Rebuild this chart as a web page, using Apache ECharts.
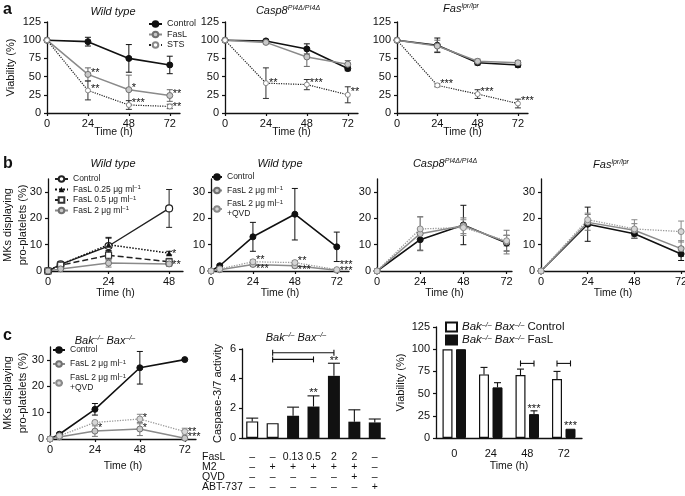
<!DOCTYPE html>
<html><head><meta charset="utf-8">
<script src="https://cdn.jsdelivr.net/npm/echarts@6/dist/echarts.min.js"></script>
<style>html,body{margin:0;padding:0;background:#fff}#c{width:685px;height:496px}</style>
</head><body><div id="c"></div>
<script>
const FONT = "'Liberation Sans', Arial, Helvetica, sans-serif";

// ---------------- DATA ----------------
// tick labels
const timeTicks = [0, 24, 48, 72];
const timeTicksB1 = [0, 24, 48];
const viabTicks = [0, 25, 50, 75, 100, 125];
const mkTicks = [0, 10, 20, 30];
const caspTicks = [0, 2, 4, 6];

// Panel a: viability (%)
const timeA = [0, 24, 48, 72];
const aWT_control = [100, 98, 75, 66];
const aWT_control_sd = [0, 6, 19, 12];
const aWT_fasl = [100, 53, 32, 24];
const aWT_fasl_sd = [0, 9, 20, 8];
const aWT_sts = [100, 31, 11, 9];
const aWT_sts_sd = [0, 13, 6, 3];
const aWT_stars = [[24, 59, '**'], [24, 36, '**'], [48, 38, '*'], [48, 17, '***'], [72, 29, '**'], [72, 12, '**']];

const aCasp_control = [100, 99, 88, 61];
const aCasp_control_sd = [0, 2, 7, 3];
const aCasp_fasl = [100, 97, 77, 67];
const aCasp_fasl_sd = [0, 2, 13, 5];
const aCasp_sts = [100, 41, 39, 25];
const aCasp_sts_sd = [0, 21, 7, 11];
const aCasp_stars = [[24, 44, '**'], [48, 44, '***'], [72, 32, '**']];

const aFas_control = [100, 93, 69, 66];
const aFas_control_sd = [0, 10, 3, 3];
const aFas_fasl = [100, 92, 71, 69];
const aFas_fasl_sd = [0, 8, 3, 3];
const aFas_sts = [100, 38, 26, 13];
const aFas_sts_sd = [0, 2, 6, 6];
const aFas_stars = [[24, 43, '***'], [48, 32, '***'], [72, 20, '***']];

// Panel b: MKs displaying pro-platelets (%)
const timeB1 = [0, 5, 24, 48];
const bWT1_control = [0, 2.5, 9.5, 23.8];
const bWT1_control_sd = [0, 0.4, 3.3, 7.2];
const bWT1_f025 = [0, 2.5, 10, 6.8];
const bWT1_f025_sd = [0, 0.3, 2.5, 0.7];
const bWT1_f05 = [0, 2.2, 6, 3.5];
const bWT1_f05_sd = [0, 0.3, 1.8, 1.3];
const bWT1_f2 = [0, 0.8, 3, 2.7];
const bWT1_f2_sd = [0, 0.3, 1.5, 1];
const bWT1_stars = [[48, 7.4, '*'], [48, 3.2, '**']];

const timeB2 = [0, 5, 24, 48, 72];
const bWT2_control = [0, 2, 13, 21.6, 9.2];
const bWT2_control_sd = [0, 0.5, 5.5, 9.8, 5.6];
const bWT2_fasl = [0, 0.5, 2.5, 2, 0.3];
const bWT2_fasl_sd = [0, 0.2, 0.8, 0.8, 0.3];
const bWT2_qvd = [0, 0.8, 3.5, 3.2, 0.5];
const bWT2_qvd_sd = [0, 0.2, 0.8, 0.8, 0.4];
const bWT2_stars = [[24, 5.0, '**'], [24, 1.6, '***'], [48, 4.6, '**'], [48, 1.4, '***'], [72, 3.1, '***'], [72, 0.9, '***']];

const timeB34 = [0, 24, 48, 72];
const bCasp_control = [0, 11.9, 17.5, 10.6];
const bCasp_control_sd = [0, 4, 7.5, 3];
const bCasp_fasl = [0, 14.2, 17.2, 11];
const bCasp_fasl_sd = [0, 6.5, 3, 4.5];
const bCasp_qvd = [0, 16, 16.5, 11.5];
const bCasp_qvd_sd = [0, 4.5, 3, 2];

const bFas_control = [0, 17.8, 14.2, 6.5];
const bFas_control_sd = [0, 6.5, 1.8, 2.5];
const bFas_fasl = [0, 18.5, 15.5, 8.5];
const bFas_fasl_sd = [0, 3, 2.5, 3];
const bFas_qvd = [0, 19.5, 16, 15];
const bFas_qvd_sd = [0, 2.5, 3.5, 4];

// Panel c1: Bak-/- Bax-/- MKs
const timeC1 = [0, 5, 24, 48, 72];
const cBB_control = [0, 1.8, 11.3, 27.1, 30.2];
const cBB_control_sd = [0, 0.4, 2.2, 6.2, 0];
const cBB_fasl = [0, 0.8, 3, 3.8, 0.3];
const cBB_fasl_sd = [0, 0.3, 2, 2.5, 0.3];
const cBB_qvd = [0, 1.2, 6.3, 7.6, 2.8];
const cBB_qvd_sd = [0, 0.3, 0.5, 1.8, 1.3];
const cBB_stars = [[24, 5.3, '*'], [48, 9.1, '*'], [48, 5.3, '*'], [72, 3.7, '**'], [72, 1.6, '***']];

// Panel c2: caspase-3/7 activity
const casp_values = [1.12, 1.0, 1.5, 2.12, 4.19, 1.1, 1.05];
const casp_sd = [0.22, 0, 0.58, 0.72, 0.85, 0.8, 0.23];
const casp_fasl = ['–', '–', '0.13', '0.5', '2', '2', '–'];
const casp_m2 = ['–', '+', '+', '+', '+', '+', '–'];
const casp_qvd = ['–', '–', '–', '–', '–', '+', '–'];
const casp_abt = ['–', '–', '–', '–', '–', '–', '+'];
const casp_rows = ['FasL', 'M2', 'QVD', 'ABT-737'];
const casp_stars = [[3, 3.18, '**'], [4, 5.37, '**']];
const casp_brackets = [[1, 4, 5.75], [1, 3, 5.3]];

// Panel c3: viability (%) bars
const viabCats = ['0', '24', '48', '72'];
const viab_control = [100, 71.6, 70.9, 66.4];
const viab_control_sd = [0, 7.9, 6.7, 8.6];
const viab_fasl = [100, 57, 26.9, 10.4];
const viab_fasl_sd = [0, 5.3, 3.7, 0];
const viab_stars = [[2, 36, '***'], [3, 16.8, '***']];
const viab_brackets = [[2, 84], [3, 84]];

// ---------------- STYLES / HELPERS ----------------
const AX = '#111';
const STY = {
  ctrlFilled: {symbol: 'circle', symbolSize: 6, itemStyle: {color: '#111', borderColor: '#111', borderWidth: 1}, lineStyle: {color: '#111', width: 1.6}},
  faslGrey: {symbol: 'circle', symbolSize: 6, itemStyle: {color: '#c8c8c8', borderColor: '#707070', borderWidth: 1}, lineStyle: {color: '#8a8a8a', width: 1.5}},
  stsDotted: {symbol: 'circle', symbolSize: 5, itemStyle: {color: '#fff', borderColor: '#888', borderWidth: 1}, lineStyle: {color: '#222', width: 1.2, type: 'dotted'}},
  qvdDotted: {symbol: 'circle', symbolSize: 6, itemStyle: {color: '#d6d6d6', borderColor: '#8a8a8a', borderWidth: 1}, lineStyle: {color: '#9a9a9a', width: 1.3, type: 'dotted'}},
  ctrlOpen: {symbol: 'circle', symbolSize: 7, itemStyle: {color: '#fff', borderColor: '#222', borderWidth: 1.2}, lineStyle: {color: '#222', width: 1.4}},
  triDotted: {symbol: 'triangle', symbolSize: 6, itemStyle: {color: '#111'}, lineStyle: {color: '#111', width: 1.5, type: 'dotted'}},
  sqDashed: {symbol: 'rect', symbolSize: 6, itemStyle: {color: '#fff', borderColor: '#333', borderWidth: 1.2}, lineStyle: {color: '#222', width: 1.5, type: 'dashed'}}
};

const series = [];
function lineSeries(name, idx, times, vals, style) {
  const st = JSON.parse(JSON.stringify(STY[style]));
  return Object.assign({name: name, type: 'line', xAxisIndex: idx, yAxisIndex: idx,
    data: times.map((t, i) => [t, vals[i]]), z: 3, clip: false, showSymbol: true,
    emphasis: {disabled: true}, animation: false}, st);
}
function errSeries(idx, times, vals, sd, color, cap) {
  const data = [];
  times.forEach((t, i) => { if (sd[i] > 0) data.push([t, vals[i] - sd[i], vals[i] + sd[i]]); });
  return {type: 'custom', coordinateSystem: 'cartesian2d', xAxisIndex: idx, yAxisIndex: idx, silent: true, clip: false, z: 2,
    data: data, animation: false,
    renderItem(params, api) {
      const a = api.coord([api.value(0), api.value(1)]);
      const b = api.coord([api.value(0), api.value(2)]);
      const h = cap / 2;
      const s = {stroke: color, lineWidth: 1};
      return {type: 'group', children: [
        {type: 'line', shape: {x1: a[0], y1: a[1], x2: b[0], y2: b[1]}, style: s},
        {type: 'line', shape: {x1: a[0] - h, y1: a[1], x2: a[0] + h, y2: a[1]}, style: s},
        {type: 'line', shape: {x1: b[0] - h, y1: b[1], x2: b[0] + h, y2: b[1]}, style: s}
      ]};
    }};
}
function barErrSeries(idx, vals, sd, dx, cap) {
  const data = [];
  vals.forEach((v, i) => { if (sd[i] > 0) data.push([i, v, v + sd[i]]); });
  return {type: 'custom', coordinateSystem: 'cartesian2d', xAxisIndex: idx, yAxisIndex: idx, silent: true, clip: false, z: 1,
    data: data, animation: false,
    renderItem(params, api) {
      const a = api.coord([api.value(0), api.value(1)]);
      const b = api.coord([api.value(0), api.value(2)]);
      const x = a[0] + dx, h = cap / 2;
      const s = {stroke: '#111', lineWidth: 1.1};
      return {type: 'group', children: [
        {type: 'line', shape: {x1: x, y1: a[1], x2: x, y2: b[1]}, style: s},
        {type: 'line', shape: {x1: x - h, y1: b[1], x2: x + h, y2: b[1]}, style: s}
      ]};
    }};
}
function starSeries(idx, stars, dx, align) {
  return {type: 'custom', coordinateSystem: 'cartesian2d', xAxisIndex: idx, yAxisIndex: idx, silent: true, clip: false, z: 6,
    data: stars.map(s => [s[0], s[1]]), animation: false,
    renderItem(params, api) {
      const p = api.coord([api.value(0), api.value(1)]);
      return {type: 'text', x: p[0] + dx, y: p[1] + 2.5,
        style: {text: stars[params.dataIndex][2], fill: '#111', font: '11px ' + FONT,
          align: align, verticalAlign: 'middle', textAlign: align, textVerticalAlign: 'middle'}};
    }};
}
function bracketSeries(idx, br, d1, d2) {
  return {type: 'custom', coordinateSystem: 'cartesian2d', xAxisIndex: idx, yAxisIndex: idx, silent: true, clip: false, z: 6,
    data: br, animation: false,
    renderItem(params, api) {
      const a = api.coord([api.value(0), api.value(2)]);
      const b = api.coord([api.value(1), api.value(2)]);
      const x1 = a[0] + d1, x2 = b[0] + d2, y = a[1];
      const s = {stroke: '#111', lineWidth: 1.1};
      return {type: 'group', children: [
        {type: 'line', shape: {x1: x1, y1: y, x2: x2, y2: y}, style: s},
        {type: 'line', shape: {x1: x1, y1: y - 3, x2: x1, y2: y + 3}, style: s},
        {type: 'line', shape: {x1: x2, y1: y - 3, x2: x2, y2: y + 3}, style: s}
      ]};
    }};
}
function addSet(idx, times, name, vals, sd, style, errColor) {
  series.push(errSeries(idx, times, vals, sd, errColor, 6));
  series.push(lineSeries(name, idx, times, vals, style));
}

// Panel a
addSet(0, timeA, 'Control|a', aWT_control, aWT_control_sd, 'ctrlFilled', '#111');
addSet(0, timeA, 'FasL|a', aWT_fasl, aWT_fasl_sd, 'faslGrey', '#666');
addSet(0, timeA, 'STS|a', aWT_sts, aWT_sts_sd, 'stsDotted', '#333');
series.push(starSeries(0, aWT_stars, 3, 'left'));
addSet(1, timeA, 'Control|a2', aCasp_control, aCasp_control_sd, 'ctrlFilled', '#111');
addSet(1, timeA, 'FasL|a2', aCasp_fasl, aCasp_fasl_sd, 'faslGrey', '#666');
addSet(1, timeA, 'STS|a2', aCasp_sts, aCasp_sts_sd, 'stsDotted', '#333');
series.push(starSeries(1, aCasp_stars, 3, 'left'));
addSet(2, timeA, 'Control|a3', aFas_control, aFas_control_sd, 'ctrlFilled', '#111');
addSet(2, timeA, 'FasL|a3', aFas_fasl, aFas_fasl_sd, 'faslGrey', '#666');
addSet(2, timeA, 'STS|a3', aFas_sts, aFas_sts_sd, 'stsDotted', '#333');
series.push(starSeries(2, aFas_stars, 3, 'left'));

// Panel b
addSet(3, timeB1, 'Control|b1', bWT1_control, bWT1_control_sd, 'ctrlOpen', '#222');
addSet(3, timeB1, 'FasL 0.25 μg ml|b1', bWT1_f025, bWT1_f025_sd, 'triDotted', '#111');
addSet(3, timeB1, 'FasL 0.5 μg ml|b1', bWT1_f05, bWT1_f05_sd, 'sqDashed', '#222');
addSet(3, timeB1, 'FasL 2 μg ml|b1', bWT1_f2, bWT1_f2_sd, 'faslGrey', '#777');
series.push(starSeries(3, bWT1_stars, 3, 'left'));

addSet(4, timeB2, 'Control|b2', bWT2_control, bWT2_control_sd, 'ctrlFilled', '#111');
addSet(4, timeB2, 'FasL 2 μg ml|b2', bWT2_fasl, bWT2_fasl_sd, 'faslGrey', '#777');
addSet(4, timeB2, 'FasL 2 μg ml +QVD|b2', bWT2_qvd, bWT2_qvd_sd, 'qvdDotted', '#888');
series.push(starSeries(4, bWT2_stars, 3, 'left'));

addSet(5, timeB34, 'Control|b3', bCasp_control, bCasp_control_sd, 'ctrlFilled', '#111');
addSet(5, timeB34, 'FasL|b3', bCasp_fasl, bCasp_fasl_sd, 'faslGrey', '#777');
addSet(5, timeB34, 'QVD|b3', bCasp_qvd, bCasp_qvd_sd, 'qvdDotted', '#888');

addSet(6, timeB34, 'Control|b4', bFas_control, bFas_control_sd, 'ctrlFilled', '#111');
addSet(6, timeB34, 'FasL|b4', bFas_fasl, bFas_fasl_sd, 'faslGrey', '#777');
addSet(6, timeB34, 'QVD|b4', bFas_qvd, bFas_qvd_sd, 'qvdDotted', '#888');

// Panel c1
addSet(7, timeC1, 'Control|c1', cBB_control, cBB_control_sd, 'ctrlFilled', '#111');
addSet(7, timeC1, 'FasL 2 μg ml|c1', cBB_fasl, cBB_fasl_sd, 'faslGrey', '#777');
addSet(7, timeC1, 'FasL 2 μg ml +QVD|c1', cBB_qvd, cBB_qvd_sd, 'qvdDotted', '#888');
series.push(starSeries(7, cBB_stars, 3, 'left'));

// Panel c2
series.push({type: 'bar', name: 'casp|c2', xAxisIndex: 8, yAxisIndex: 8, barWidth: 12, z: 3, animation: false,
  data: casp_values.map((v, i) => ({value: v, itemStyle: i < 2 ? {color: '#fff', borderColor: '#111', borderWidth: 1.2} : {color: '#111'}})),
  emphasis: {disabled: true}});
series.push(barErrSeries(8, casp_values, casp_sd, 0, 12));
series.push(starSeries(8, casp_stars, 0, 'center'));
series.push(bracketSeries(8, casp_brackets, 0, 0));

// Panel c3
const BW = 10, BG = 3.5, OFF = (BW + BG) / 2;
series.push({type: 'bar', name: 'Control|c3', xAxisIndex: 9, yAxisIndex: 9, barWidth: BW, barGap: (BG / BW * 100) + '%', z: 3, animation: false,
  data: viab_control, itemStyle: {color: '#fff', borderColor: '#111', borderWidth: 1.2}, emphasis: {disabled: true}});
series.push({type: 'bar', name: 'FasL|c3', xAxisIndex: 9, yAxisIndex: 9, barWidth: BW, barGap: (BG / BW * 100) + '%', z: 3, animation: false,
  data: viab_fasl, itemStyle: {color: '#111', borderColor: '#111', borderWidth: 1}, emphasis: {disabled: true}});
series.push(barErrSeries(9, viab_control, viab_control_sd, -OFF, 7));
series.push(barErrSeries(9, viab_fasl, viab_fasl_sd, OFF, 7));
series.push(starSeries(9, viab_stars.map(s => s), OFF, 'center'));
series.push(bracketSeries(9, viab_brackets.map(b => [b[0], b[0], b[1]]), -OFF, OFF));

// ---------------- AXES ----------------
const grids = [
  {left: 47, top: 22, width: 133, height: 91},
  {left: 225, top: 22, width: 133, height: 91},
  {left: 397, top: 22, width: 131, height: 91},
  {left: 48, top: 179, width: 135, height: 92},
  {left: 211, top: 179, width: 138, height: 92},
  {left: 377, top: 179, width: 135, height: 92},
  {left: 541, top: 179, width: 144, height: 92},
  {left: 50, top: 347, width: 146, height: 92},
  {left: 242, top: 349, width: 143, height: 89},
  {left: 436, top: 327, width: 146, height: 111}
].map(g => Object.assign({containLabel: false, outerBoundsMode: 'none', show: false}, g));

const lblStyle = {fontFamily: FONT, fontSize: 11, color: '#111'};
const nameStyle = {fontFamily: FONT, fontSize: 10.5, color: '#111'};
function xVal(idx, max, ticks, nameGap) {
  return {type: 'value', gridIndex: idx, min: 0, max: max, interval: 24,
    name: 'Time (h)', nameLocation: 'middle', nameGap: nameGap, nameTextStyle: nameStyle, nameMoveOverlap: false,
    axisLine: {show: true, onZero: false, lineStyle: {color: AX, width: 1.3}},
    axisTick: {show: true, length: 3, customValues: ticks, lineStyle: {color: AX, width: 1.2}},
    axisLabel: Object.assign({customValues: ticks, margin: 5,
      formatter: v => (ticks.indexOf(v) >= 0 ? String(v) : '')}, lblStyle),
    splitLine: {show: false}};
}
function yVal(idx, max, interval, ticks, name, nameGap, lh) {
  return {type: 'value', gridIndex: idx, min: 0, max: max, interval: interval,
    name: name || '', nameLocation: 'middle', nameGap: nameGap || 20, nameMoveOverlap: false,
    nameTextStyle: Object.assign({}, nameStyle, {fontSize: 11, lineHeight: lh || 13}),
    axisLine: {show: true, onZero: false, lineStyle: {color: AX, width: 1.3}},
    axisTick: {show: true, length: 3, customValues: ticks, lineStyle: {color: AX, width: 1.2}},
    axisLabel: Object.assign({customValues: ticks, margin: 6,
      formatter: v => (ticks.indexOf(v) >= 0 ? String(v) : '')}, lblStyle),
    splitLine: {show: false}};
}
const MK = 'MKs displaying\npro-platelets (%)';
const xAxes = [
  xVal(0, 78, timeTicks, 13.5), xVal(1, 78, timeTicks, 13.5), xVal(2, 78, timeTicks, 13.5),
  xVal(3, 53.5, timeTicksB1, 17), xVal(4, 79, timeTicks, 17), xVal(5, 75, timeTicks, 17), xVal(6, 74, timeTicks, 17),
  xVal(7, 78, timeTicks, 21.5),
  {type: 'category', gridIndex: 8, data: casp_values.map((v, i) => String(i)),
    axisLine: {show: true, lineStyle: {color: AX, width: 1.3}}, axisTick: {show: false},
    axisLabel: {interval: 0, margin: 14, fontFamily: FONT, fontSize: 10.5, lineHeight: 10, color: '#111',
      formatter: (v) => { const i = Number(v); return [casp_fasl[i], casp_m2[i], casp_qvd[i], casp_abt[i]].join('\n'); }},
    splitLine: {show: false}},
  {type: 'category', gridIndex: 9, data: viabCats, name: 'Time (h)', nameLocation: 'middle', nameGap: 23, nameTextStyle: nameStyle, nameMoveOverlap: false,
    axisLine: {show: true, lineStyle: {color: AX, width: 1.3}}, axisTick: {show: false},
    axisLabel: Object.assign({interval: 0, margin: 10}, lblStyle), splitLine: {show: false}}
];
const yAxes = [
  yVal(0, 125, 25, viabTicks, 'Viability (%)', 29.5), yVal(1, 125, 25, viabTicks), yVal(2, 125, 25, viabTicks),
  yVal(3, 35, 10, mkTicks, MK, 17.5, 15), yVal(4, 35, 10, mkTicks), yVal(5, 35, 10, mkTicks), yVal(6, 35, 10, mkTicks),
  yVal(7, 35, 10, mkTicks, MK, 19.5, 15),
  yVal(8, 6, 2, caspTicks, 'Caspase-3/7 activity', 17.5),
  yVal(9, 125, 25, viabTicks, 'Viability (%)', 28.5)
];

// ---------------- LEGENDS ----------------
const supRich = {s: {fontFamily: FONT, fontSize: 6, color: '#222', verticalAlign: 'top', lineHeight: 6},
  i: {fontFamily: FONT, fontSize: 11.5, fontStyle: 'italic', color: '#111'},
  si: {fontFamily: FONT, fontSize: 7, fontStyle: 'italic', color: '#111', verticalAlign: 'top', lineHeight: 7},
  n: {fontFamily: FONT, fontSize: 11.5, color: '#111'}};
function mlFmt(n) {
  const s = n.split('|')[0];
  return s.replace('ml +QVD', 'ml{s|−1}\n+QVD').replace(/ml$/, 'ml{s|−1}');
}
function legend(data, left, top, fs, gap, extra) {
  return Object.assign({data: data, left: left, top: top, orient: 'vertical', padding: 0, itemGap: gap,
    itemWidth: 13, itemHeight: 7, selectedMode: false,
    textStyle: {fontFamily: FONT, fontSize: fs, color: '#222', lineHeight: 10, rich: supRich},
    formatter: mlFmt}, extra || {});
}
const legends = [
  legend(['Control|a', 'FasL|a', 'STS|a'], 148, 19, 9, 0.5),
  legend(['Control|b1', 'FasL 0.25 μg ml|b1', 'FasL 0.5 μg ml|b1', 'FasL 2 μg ml|b1'], 54, 174, 8.5, 0.5),
  legend(['Control|b2', 'FasL 2 μg ml|b2', 'FasL 2 μg ml +QVD|b2'], 211, 172, 8.5, 3.5, {itemWidth: 10}),
  legend(['Control|c1', 'FasL 2 μg ml|c1', 'FasL 2 μg ml +QVD|c1'], 52, 345, 8.5, 4, {itemWidth: 12}),
  {data: ['Control|c3', 'FasL|c3'], left: 445, top: 321, orient: 'vertical', padding: 0, itemGap: 1,
    itemWidth: 11, itemHeight: 9, icon: 'rect', selectedMode: false,
    textStyle: {fontFamily: FONT, fontSize: 11.5, color: '#111', lineHeight: 10.5, rich: supRich},
    formatter: n => '{i|Bak}{si|–/–} {i|Bax}{si|–/–} {n|' + n.split('|')[0] + '}'}
];

// ---------------- TEXTS ----------------
const titleRich = {
  i: {fontFamily: FONT, fontSize: 11, fontStyle: 'italic', color: '#111', lineHeight: 12},
  s: {fontFamily: FONT, fontSize: 7, fontStyle: 'italic', color: '#111', verticalAlign: 'top', lineHeight: 7}
};
function gtext(x, y, text, extra) {
  return {type: 'text', x: x, y: y, silent: true,
    style: Object.assign({text: text, rich: titleRich, fill: '#111', font: '11px ' + FONT,
      align: 'center', verticalAlign: 'middle', textAlign: 'center', textVerticalAlign: 'middle'}, extra || {})};
}
const letter = {font: 'bold 16px ' + FONT, align: 'left', textAlign: 'left'};
const graphics = [
  gtext(3, 10, 'a', letter), gtext(3, 164, 'b', letter), gtext(3, 336, 'c', letter),
  gtext(113, 12, '{i|Wild type}'), gtext(288, 11, '{i|Casp8}{s|PI4Δ/PI4Δ}'), gtext(461, 9, '{i|Fas}{s|lpr/lpr}'),
  gtext(113, 164, '{i|Wild type}'), gtext(280, 164, '{i|Wild type}'),
  gtext(445, 164, '{i|Casp8}{s|PI4Δ/PI4Δ}'), gtext(611, 165, '{i|Fas}{s|lpr/lpr}'),
  gtext(105, 341, '{i|Bak}{s|–/–} {i|Bax}{s|–/–}'), gtext(296, 338, '{i|Bak}{s|–/–} {i|Bax}{s|–/–}')
];
casp_rows.forEach((r, k) => graphics.push(gtext(202, 457 + k * 10, r, {align: 'left', textAlign: 'left', font: '10.5px ' + FONT})));

const chart = echarts.init(document.getElementById('c'), null, {renderer: 'canvas'});
chart.setOption({
  animation: false,
  backgroundColor: '#fff',
  textStyle: {fontFamily: FONT},
  grid: grids, xAxis: xAxes, yAxis: yAxes, legend: legends, series: series,
  graphic: graphics
});
</script></body></html>
